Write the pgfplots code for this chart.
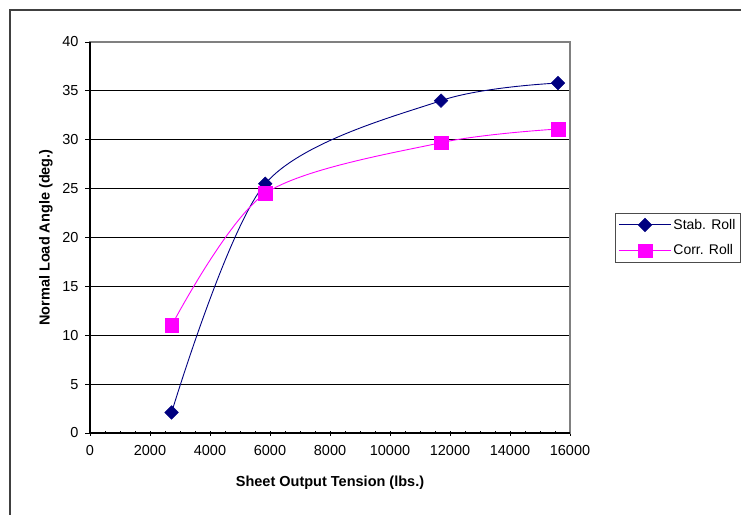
\documentclass[border=0pt]{standalone}
\usepackage{pgfplots}
\pgfplotsset{compat=1.18}
\usepackage{fontspec}
\setmainfont{Liberation Sans}
\definecolor{stab}{RGB}{0,0,128}
\definecolor{corr}{RGB}{255,0,255}
\begin{document}
\begin{tikzpicture}[x=1pt,y=1pt]
\useasboundingbox (0,0) rectangle (741,514);
\draw[line width=1.2pt, black!75] (10,-5) -- (10,504) -- (760,504);
\begin{axis}[
  at={(90pt,81pt)}, anchor=south west,
  scale only axis, width=480pt, height=391pt,
  xmin=0, xmax=16000, ymin=0, ymax=40,
  xtick={0,2000,...,16000}, ytick={0,5,...,40},
  minor x tick num=3,
  xtick pos=left, ytick pos=left,
  scaled x ticks=false,
  /pgf/number format/assume math mode=true,
  xticklabel={\pgfmathprintnumber[fixed,1000 sep={}]{\tick}},
  ymajorgrids, grid style={black, line width=0.8pt},
  axis line style={draw=black!50, line width=1.4pt},
  tick align=outside, major tick length=5pt, minor tick length=3pt,
  tick style={black, line width=0.9pt},
  x tick style={yshift=2.5pt},
  ticklabel style={font=\fontsize{14.5}{16}\selectfont},
  xticklabel style={yshift=-4pt},
  yticklabel style={xshift=-3pt},
  xlabel={Sheet Output Tension (lbs.)},
  ylabel={Normal Load Angle (deg.)},
  every axis x label/.style={at={(axis description cs:0.5,-0.128)}, anchor=center, font=\fontsize{14.5}{16}\selectfont\bfseries},
  every axis y label/.style={at={(axis description cs:-0.092,0.5)}, anchor=center, rotate=90, font=\fontsize{14.5}{16}\selectfont\bfseries},
  legend style={at={(rel axis cs:1.094,0.5634)}, anchor=north west,
    draw=black!70, line width=0.8pt, fill=white,
    font=\fontsize{14}{16}\selectfont, inner xsep=3pt, inner ysep=4pt,
    row sep=10pt, cells={anchor=west}},
  legend image code/.code={\draw[mark repeat=2,mark phase=2] plot coordinates {(0pt,0pt) (26pt,0pt) (52pt,0pt)};},
  clip=false,
]
\addplot[stab, line width=0.9pt, smooth, mark=square*, mark size=4.8pt, mark options={rotate=45, line width=0.5pt}]
  coordinates {(2720,2.1) (5840,25.5) (11700,34.0) (15600,35.8)};
\addlegendentry{Stab. Roll}
\addplot[corr, line width=0.9pt, smooth, mark=square*, mark size=6.8pt, mark options={line width=0.5pt}]
  coordinates {(2720,11.0) (5840,24.5) (11700,29.7) (15600,31.1)};
\addlegendentry{Corr. Roll}
\draw[black, line width=1.6pt] (rel axis cs:0,1) -- (rel axis cs:0,0) -- (rel axis cs:1,0);
\end{axis}
\end{tikzpicture}
\end{document}
